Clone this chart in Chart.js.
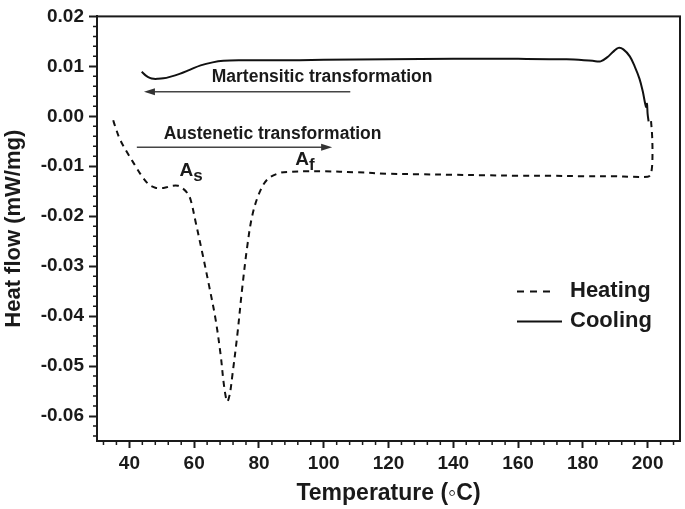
<!DOCTYPE html>
<html>
<head>
<meta charset="utf-8">
<script src="https://cdn.jsdelivr.net/npm/chart.js@4.4.0/dist/chart.umd.min.js"></script>
<style>
    html, body { margin: 0; padding: 0; background: #fff; }
    #wrap { width: 685px; height: 509px; }
</style>
</head>
<body>
<div id="wrap"><canvas id="dscChart" width="685" height="509"></canvas></div>
<script>
// Heating run (dashed), temperature in C and heat flow in mW/mg
const heatingTemp = [35.0, 35.6, 37.0, 38.9, 40.5, 42.0, 44.0, 46.1, 48.0, 49.7, 51.5, 53.3, 55.0, 56.4, 57.8, 58.9,
    60.5, 62.5, 64.6, 66.6, 68.2, 69.2, 70.2, 71.0, 71.8, 73.3, 74.8, 76.4, 77.9, 79.9, 82.5, 86.1, 90, 95, 100, 110,
    120, 130, 140, 150, 160, 170, 180, 190, 195, 200.0, 200.8, 201.3, 201.5, 201.4, 201.0];
const heatingFlow = [-0.0008, -0.0020, -0.0045, -0.0068, -0.0085, -0.0101, -0.0121, -0.0137, -0.0143, -0.0144, -0.0142, -0.0139, -0.0139, -0.0144, -0.0153, -0.0167,
    -0.0213, -0.0273, -0.0339, -0.0406, -0.0479, -0.0538, -0.0571, -0.0556, -0.0518, -0.0439, -0.0346, -0.0260, -0.0200, -0.0157, -0.0127, -0.0114, -0.0111, -0.0110, -0.0110, -0.0112,
    -0.0115, -0.0116, -0.0117, -0.0118, -0.0119, -0.0119, -0.0120, -0.0120, -0.0121, -0.0121, -0.0118, -0.0105, -0.0080, -0.0040, -0.0005];

// Cooling run (solid), recorded from 200 C down to 44 C
const coolingTemp = [200.3, 200.0, 199.8, 199.5, 198.5, 197.5, 196.0, 194.5, 192.5, 191.0, 189.5, 187.5, 185.5, 183, 175,
    160, 140, 120, 100, 85, 74, 69, 65.7, 62, 58.6, 55.5, 52.5, 50.5, 48.8, 47.5, 46.3, 45, 43.8];
const coolingFlow = [-0.0010, 0.0005, 0.0025, 0.0019, 0.0050, 0.0075, 0.0100, 0.0120, 0.0134, 0.0137, 0.0130, 0.0118, 0.0110, 0.0111, 0.0114,
    0.0115, 0.0115, 0.0114, 0.0113, 0.0112, 0.0112, 0.0111, 0.0108, 0.0102, 0.0093, 0.0085, 0.0079, 0.0076, 0.0075, 0.0075, 0.0077, 0.0082, 0.0089];

// Axis ticks
const xTicks = [40, 60, 80, 100, 120, 140, 160, 180, 200];
const yTicks = [-0.06, -0.05, -0.04, -0.03, -0.02, -0.01, 0.00, 0.01, 0.02];

// Annotation texts and their anchors in data units
const martensiteLabel = { text: 'Martensitic transformation', x: 99.5, y: 0.0079 };
const martensiteArrow = { from: 108.2, to: 44.5, y: 0.0049 };
const austeniteLabel = { text: 'Austenetic transformation', x: 84.2, y: -0.0035 };
const austeniteArrow = { from: 42.3, to: 102.6, y: -0.0062 };
const markers = [
    { main: 'A', sub: 's', x: 55.5, y: -0.0120 },
    { main: 'A', sub: 'f', x: 91.2, y: -0.0098 }
];

const FONT = '"Liberation Sans", Arial, sans-serif';
const INK = '#1a1a1a';

const toPoints = (xs, ys) => xs.map((x, i) => ({ x: x, y: ys[i] }));

// Box round the plot plus minor ticks
const framePlugin = {
    id: 'frame',
    afterDraw(chart) {
        const ctx = chart.ctx;
        const a = chart.chartArea;
        const xs = chart.scales.x;
        const ys = chart.scales.y;
        ctx.save();
        ctx.strokeStyle = INK;
        ctx.lineWidth = 2;
        ctx.strokeRect(a.left, a.top, a.right - a.left, a.bottom - a.top);
        ctx.lineWidth = 1.5;
        ctx.beginPath();
        for (let v = 32; v <= 208; v += 4) {
            if (v % 20 === 0) continue;
            const px = xs.getPixelForValue(v);
            ctx.moveTo(px, a.bottom);
            ctx.lineTo(px, a.bottom + 4);
        }
        for (let i = -32; i <= 10; i++) {
            if (i % 5 === 0) continue;
            const py = ys.getPixelForValue(i * 0.002);
            ctx.moveTo(a.left, py);
            ctx.lineTo(a.left - 4, py);
        }
        ctx.stroke();
        ctx.restore();
    }
};

function drawArrow(ctx, x1, x2, y) {
    const dir = x2 > x1 ? 1 : -1;
    ctx.beginPath();
    ctx.moveTo(x1, y);
    ctx.lineTo(x2 - dir * 8, y);
    ctx.stroke();
    ctx.beginPath();
    ctx.moveTo(x2, y);
    ctx.lineTo(x2 - dir * 11, y - 3.5);
    ctx.lineTo(x2 - dir * 11, y + 3.5);
    ctx.closePath();
    ctx.fill();
}

// Transformation labels, arrows and A_s / A_f markers
const annotationPlugin = {
    id: 'notes',
    afterDatasetsDraw(chart) {
        const ctx = chart.ctx;
        const xs = chart.scales.x;
        const ys = chart.scales.y;
        ctx.save();
        ctx.fillStyle = INK;
        ctx.strokeStyle = '#444';
        ctx.lineWidth = 1.5;
        ctx.font = 'bold 17.5px ' + FONT;
        ctx.textAlign = 'center';
        ctx.textBaseline = 'middle';
        [martensiteLabel, austeniteLabel].forEach(l => {
            ctx.fillText(l.text, xs.getPixelForValue(l.x), ys.getPixelForValue(l.y));
        });
        ctx.fillStyle = '#333';
        [martensiteArrow, austeniteArrow].forEach(ar => {
            drawArrow(ctx, xs.getPixelForValue(ar.from), xs.getPixelForValue(ar.to), ys.getPixelForValue(ar.y));
        });
        ctx.fillStyle = INK;
        ctx.textAlign = 'left';
        ctx.textBaseline = 'alphabetic';
        markers.forEach(m => {
            const px = xs.getPixelForValue(m.x);
            const py = ys.getPixelForValue(m.y);
            ctx.font = 'bold 19px ' + FONT;
            ctx.fillText(m.main, px, py);
            const w = ctx.measureText(m.main).width;
            ctx.font = 'bold 17px ' + FONT;
            ctx.fillText(m.sub, px + w, py + 5);
        });
        ctx.restore();
    }
};

// Legend in the lower right of the plot
const legendPlugin = {
    id: 'dscLegend',
    afterDraw(chart) {
        const ctx = chart.ctx;
        const a = chart.chartArea;
        ctx.save();
        ctx.font = 'bold 22px ' + FONT;
        ctx.fillStyle = INK;
        ctx.textBaseline = 'middle';
        chart.data.datasets.forEach((ds, i) => {
            const y = a.top + 275 + i * 30;
            const x0 = a.right - 163;
            const dashed = !!ds.borderDash;
            ctx.strokeStyle = ds.borderColor;
            ctx.lineWidth = ds.borderWidth;
            ctx.setLineDash(dashed ? [7, 6] : []);
            ctx.beginPath();
            ctx.moveTo(x0, y);
            ctx.lineTo(x0 + (dashed ? 33 : 45), y);
            ctx.stroke();
            ctx.setLineDash([]);
            ctx.fillText(ds.label, x0 + 53, y);
        });
        ctx.restore();
    }
};

const ctx = document.getElementById('dscChart').getContext('2d');
const dscChart = new Chart(ctx, {
    type: 'line',
    data: {
        datasets: [{
            label: 'Heating',
            data: toPoints(heatingTemp, heatingFlow),
            borderColor: '#111',
            borderWidth: 2,
            borderDash: [6, 5],
            pointRadius: 0,
            tension: 0.35,
            fill: false
        }, {
            label: 'Cooling',
            data: toPoints(coolingTemp, coolingFlow),
            borderColor: '#111',
            borderWidth: 2,
            pointRadius: 0,
            tension: 0.35,
            fill: false
        }]
    },
    options: {
        responsive: false,
        animation: false,
        layout: {
            padding: { top: 12, right: 5, left: 0, bottom: 0 }
        },
        scales: {
            x: {
                type: 'linear',
                min: 30,
                max: 210,
                afterBuildTicks: scale => { scale.ticks = xTicks.map(v => ({ value: v })); },
                afterFit: scale => { scale.height = 68; },
                border: { color: INK, width: 2 },
                grid: { drawOnChartArea: false, tickLength: 7, tickWidth: 2, tickColor: INK },
                ticks: {
                    color: INK,
                    padding: 4,
                    maxRotation: 0,
                    font: { family: FONT, size: 19, weight: 'bold' }
                },
                title: {
                    display: true,
                    text: 'Temperature (\u25E6C)',
                    color: INK,
                    padding: 2,
                    font: { family: FONT, size: 23, weight: 'bold' }
                }
            },
            y: {
                type: 'linear',
                min: -0.065,
                max: 0.02,
                afterBuildTicks: scale => { scale.ticks = yTicks.map(v => ({ value: v })); },
                afterFit: scale => { scale.width = 97; },
                border: { color: INK, width: 2 },
                grid: { drawOnChartArea: false, tickLength: 8, tickWidth: 2, tickColor: INK },
                ticks: {
                    color: INK,
                    padding: 5,
                    font: { family: FONT, size: 19, weight: 'bold' },
                    callback: v => v.toFixed(2)
                },
                title: {
                    display: true,
                    text: 'Heat flow (mW/mg)',
                    color: INK,
                    padding: 1,
                    font: { family: FONT, size: 22, weight: 'bold' }
                }
            }
        },
        plugins: {
            legend: { display: false },
            tooltip: { enabled: false }
        }
    },
    plugins: [framePlugin, annotationPlugin, legendPlugin]
});
</script>
</body>
</html>
